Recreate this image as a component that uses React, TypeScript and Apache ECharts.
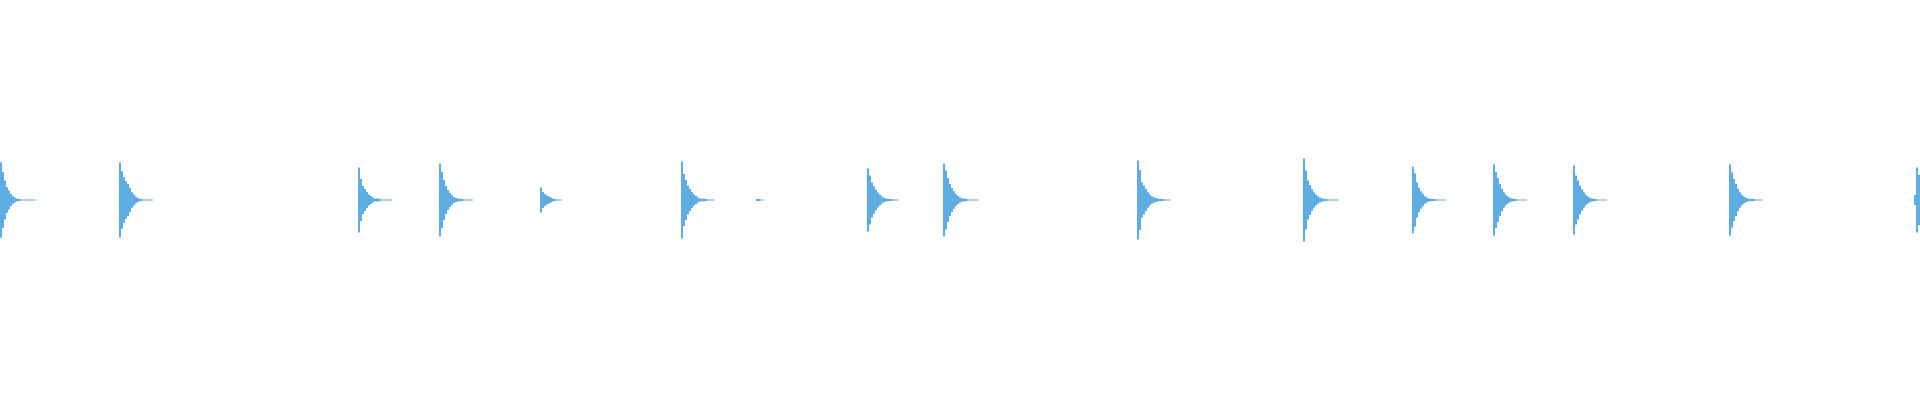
import React, { useEffect, useRef } from "react";
import * as echarts from "echarts";

// onset of each burst, in pixel columns (x axis runs 0..1920)
const ONSETS = [0, 119, 358, 439, 540, 681, 756, 867, 943, 1137, 1303, 1412, 1493, 1573, 1729, 1914];

// upper envelope of each burst in % of full scale, one value per 2-column bin (mirrored below zero)
const ENVELOPES: number[][] = [
  [18.9, 14, 9.8, 6.4, 4.8, 3.0, 1.9, 1.2, 0.8, 0.5, 0.4, 0.3, 0.3, 0.3, 0.3, 0.25, 0.25, 0.25],
  [18.8, 14.4, 11.4, 9.4, 8, 6, 3.9, 2.7, 1.7, 0.9, 0.6, 0.5, 0.3, 0.3, 0.3, 0.3, 0.3],
  [16.2, 10.5, 7, 5.5, 4, 2.8, 2, 1.3, 0.8, 0.75, 0.75, 0.4, 0.3, 0.3, 0.3, 0.3, 0.3],
  [18.2, 14, 10, 7, 5, 3.6, 2.4, 1.5, 1, 0.7, 0.6, 0.5, 0.3, 0.3, 0.3, 0.3, 0.3],
  [6.2, 4, 3, 2.3, 1.7, 1.2, 0.8, 0.5, 0.3, 0.3, 0.3],
  [19.2, 13, 10, 7.2, 5.5, 4, 2.9, 2.1, 1.2, 0.9, 0.6, 0.6, 0.5, 0.3, 0.3, 0.3, 0.3],
  [0.5, 0.45, 0.3, 0.3],
  [15.8, 12.2, 8.6, 6.9, 5.2, 3.7, 2.6, 1.7, 1.1, 0.75, 0.6, 0.5, 0.5, 0.3, 0.3, 0.3],
  [18.2, 14.7, 11, 8, 6, 4.4, 3, 2, 1.4, 0.9, 0.7, 0.6, 0.4, 0.3, 0.3, 0.3, 0.3, 0.3],
  [19.8, 15, 8.9, 7.2, 5.5, 3.9, 2.7, 1.9, 1.4, 1, 0.7, 0.6, 0.5, 0.4, 0.3, 0.3, 0.3],
  [20.8, 14.8, 9.8, 7.5, 5.5, 3.9, 2.8, 1.9, 1.3, 0.9, 0.6, 0.5, 0.4, 0.3, 0.3, 0.3, 0.3, 0.3],
  [16.8, 13.4, 8.9, 6, 4.4, 3.1, 1.9, 1.2, 0.75, 0.6, 0.5, 0.5, 0.3, 0.3, 0.3, 0.3, 0.3],
  [17.8, 14, 11, 8, 5.6, 3.9, 2.6, 1.7, 1.1, 0.75, 0.6, 0.5, 0.3, 0.3, 0.3, 0.3, 0.3],
  [17.2, 12.2, 9.7, 7.2, 5.4, 3.9, 2.6, 1.7, 1.1, 0.8, 0.6, 0.5, 0.3, 0.3, 0.3, 0.3, 0.3],
  [17.8, 13.9, 10.6, 8, 5.6, 3.9, 2.6, 1.7, 1.1, 0.8, 0.6, 0.5, 0.5, 0.3, 0.3, 0.3, 0.3],
  [2.5, 16.2, 12.5],
];

const BIN = 2;
const WAVE_COLOR = "#5dade2";

export default function App() {
  const chartRef = useRef<HTMLDivElement>(null);

  useEffect(() => {
    if (!chartRef.current) return;
    const chart = echarts.init(chartRef.current, undefined, { renderer: "svg" });

    const data: [number, number][] = [];
    ONSETS.forEach((x0, b) => {
      ENVELOPES[b].forEach((amp, i) => data.push([x0 + i * BIN, amp]));
    });

    chart.setOption({
      animation: false,
      backgroundColor: "#ffffff",
      grid: { left: 0, right: 0, top: 0, bottom: 0 },
      xAxis: { type: "value", min: 0, max: 1920, show: false },
      yAxis: { type: "value", min: -100, max: 100, show: false },
      series: [
        {
          type: "custom",
          clip: true,
          encode: { x: 0, y: 1 },
          data,
          renderItem: (params: any, api: any) => {
            const x = api.value(0);
            const amp = api.value(1);
            const tl = api.coord([x, amp]);
            const br = api.coord([x + BIN, -amp]);
            const h = Math.max(1, br[1] - tl[1]);
            return {
              type: "rect",
              shape: { x: tl[0], y: (tl[1] + br[1]) / 2 - h / 2, width: br[0] - tl[0], height: h },
              style: { fill: WAVE_COLOR },
            };
          },
        },
      ],
    });

    return () => chart.dispose();
  }, []);

  return (
    <div
      ref={chartRef}
      style={{ position: "absolute", left: 0, top: 0, width: 1920, height: 400 }}
    />
  );
}
